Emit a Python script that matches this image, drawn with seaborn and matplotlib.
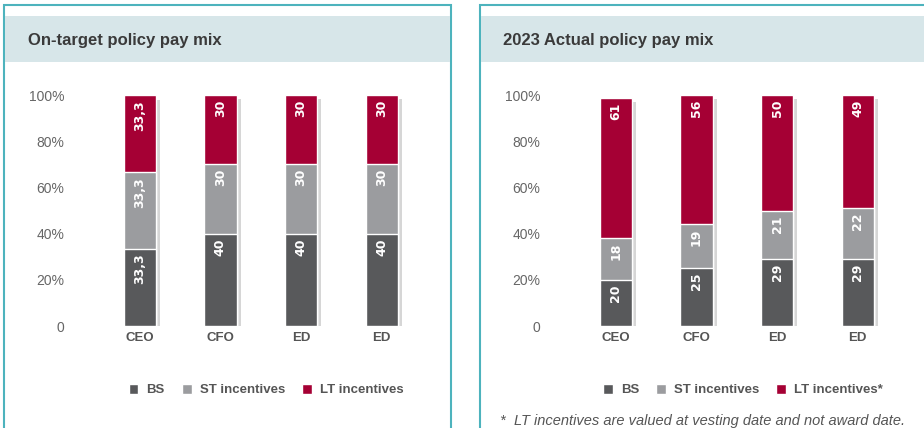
import matplotlib
matplotlib.use("Agg")
import matplotlib.pyplot as plt
import matplotlib.patheffects as pe
from matplotlib.patches import Patch, Rectangle
import pandas as pd
import seaborn as sns

# data
roles = ["CEO", "CFO", "ED", "ED"]
target_bs = [33.3, 40, 40, 40]
target_st = [33.3, 30, 30, 30]
target_lt = [33.3, 30, 30, 30]
actual_bs = [20, 25, 29, 29]
actual_st = [18, 19, 21, 22]
actual_lt = [61, 56, 50, 49]
series_names = ["BS", "ST incentives", "LT incentives"]
yticks = [0, 20, 40, 60, 80, 100]
ytick_labels = ["0", "20%", "40%", "60%", "80%", "100%"]

c_bs, c_st, c_lt = "#58595b", "#9b9c9f", "#a50034"
border = "#4db3bd"
band = "#d7e6e9"
txt = "#555555"

sns.set_theme(style="white")
plt.rcParams["font.family"] = ["Liberation Sans", "DejaVu Sans"]

W, H = 924, 428
fig = plt.figure(figsize=(W / 100, H / 100), dpi=100)


def box(x0, y0, x1, y1, **kw):
    # pixel coords (top-left origin) -> figure rectangle
    r = Rectangle((x0 / W, 1 - y1 / H), (x1 - x0) / W, (y1 - y0) / H,
                  transform=fig.transFigure, **kw)
    fig.add_artist(r)


# panel frames and title bands
box(4, 5, 451, 440, facecolor="none", edgecolor=border, lw=1.5)
box(480, 5, 940, 440, facecolor="none", edgecolor=border, lw=1.5)
box(5, 16, 450, 62, facecolor=band, edgecolor="none")
box(481, 16, 940, 62, facecolor=band, edgecolor="none")
fig.text(28 / W, 1 - 40 / H, "On-target policy pay mix", fontsize=12,
         fontweight="bold", color="#3a3a3a", va="center")
fig.text(503 / W, 1 - 40 / H, "2023 Actual policy pay mix", fontsize=12,
         fontweight="bold", color="#3a3a3a", va="center")


def fmt(v):
    return f"{v:g}".replace(".", ",")


def draw(ax, bs, st, lt, lt_name):
    df = pd.DataFrame({"pos": range(len(roles)), "bs": bs, "st": st, "lt": lt})
    df["c2"] = df["bs"] + df["st"]
    df["c3"] = df["c2"] + df["lt"]
    layers = [("c3", c_lt), ("c2", c_st), ("bs", c_bs)]
    for i, (col, color) in enumerate(layers):
        sns.barplot(data=df, x="pos", y=col, color=color, width=0.4,
                    edgecolor="white", linewidth=1, saturation=1, ax=ax)
        if i == 0:
            for p in ax.patches:
                p.set_path_effects([
                    pe.SimplePatchShadow(offset=(3, -3), shadow_rgbFace="#999999", alpha=0.4),
                    pe.Normal()])
    for i, row in df.iterrows():
        for top, v in [(row["bs"], row["bs"]), (row["c2"], row["st"]), (row["c3"], row["lt"])]:
            ax.text(i, top - 2.0, fmt(v), rotation=90, ha="center", va="top",
                    color="white", fontsize=9, fontweight="bold", family="DejaVu Sans")
    ax.set_xlim(-0.68, 3.6)
    ax.set_ylim(0, 104)
    ax.set_yticks(yticks)
    ax.set_yticklabels(ytick_labels, color="#666666", fontsize=10)
    ax.set_xticks(range(len(roles)))
    ax.set_xticklabels(roles, color=txt, fontsize=9.5, fontweight="bold")
    ax.tick_params(axis="y", length=0, pad=15)
    ax.tick_params(axis="x", length=0, pad=4)
    ax.set_xlabel("")
    ax.set_ylabel("")
    sns.despine(ax=ax, left=True, bottom=True)
    handles = [Patch(facecolor=c) for c in (c_bs, c_st, c_lt)]
    return handles, series_names[:2] + [lt_name]


ax_h = (326 - 86) / H
ax1 = fig.add_axes([85 / W, (H - 326) / H, 345 / W, ax_h])
ax2 = fig.add_axes([561 / W, (H - 326) / H, 345 / W, ax_h])

h1, l1 = draw(ax1, target_bs, target_st, target_lt, "LT incentives")
h2, l2 = draw(ax2, actual_bs, actual_st, actual_lt, "LT incentives*")

leg_kw = dict(loc="center", ncol=3, frameon=False, handlelength=0.75,
              handleheight=0.8, handletextpad=0.6, columnspacing=1.3,
              prop={"size": 9.5, "weight": "bold"}, labelcolor=txt)
fig.legend(h1, l1, bbox_to_anchor=(266 / W, 1 - 390 / H), **leg_kw)
fig.legend(h2, l2, bbox_to_anchor=(743 / W, 1 - 390 / H), **leg_kw)

fig.text(500 / W, 1 - 421 / H, "*  LT incentives are valued at vesting date and not award date.",
         fontsize=10.5, style="italic", color=txt, va="center")

fig.savefig("out.png", dpi=100)
